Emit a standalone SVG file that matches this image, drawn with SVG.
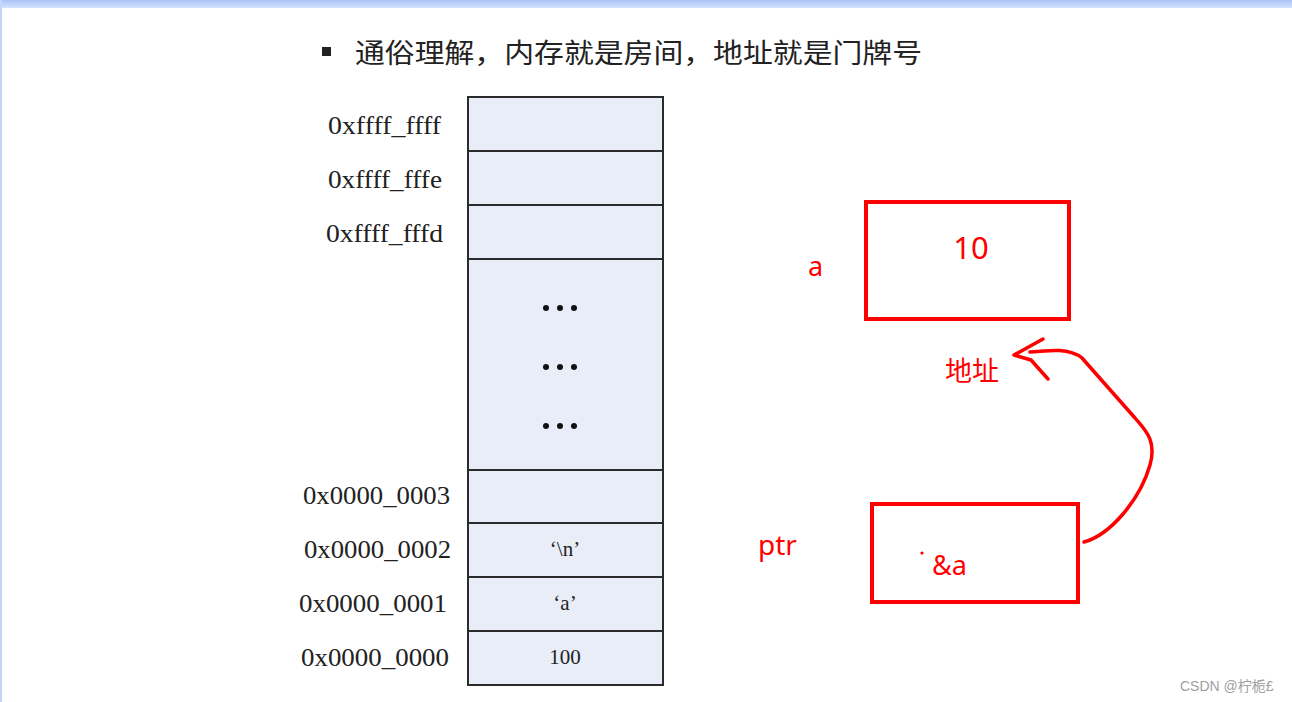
<svg xmlns="http://www.w3.org/2000/svg" width="1292" height="702" viewBox="0 0 1292 702">
<defs>
<linearGradient id="topbar" x1="0" y1="0" x2="0" y2="1">
<stop offset="0" stop-color="#a9c4f7"/>
<stop offset="1" stop-color="#d4e2fb"/>
</linearGradient>
</defs>
<style>
.cell{fill:#e8edf7;stroke:#2b2b2b;stroke-width:2}
.addr{font-family:"Liberation Serif",serif;font-size:26px;fill:#222}
.val{font-family:"Liberation Serif",serif;font-size:21px;fill:#222;text-anchor:middle}
.dot{fill:#111}
.rbox{fill:none;stroke:#ff0000;stroke-width:4}
.rtxt{font-family:"Noto Sans","Noto Sans CJK SC",sans-serif;fill:#ff0000}
.rline{fill:none;stroke:#ff0000;stroke-width:3.5;stroke-linecap:round;stroke-linejoin:round}
</style>
<rect x="0" y="0" width="1292" height="702" fill="#ffffff"/>
<rect x="0" y="0" width="1292" height="8" fill="url(#topbar)"/>
<rect x="0" y="0" width="2" height="702" fill="#c3d6f8"/>

<g id="title">
<rect x="322" y="47" width="9" height="9" fill="#222"/>
<text x="355" y="63" font-family="Noto Sans CJK SC, sans-serif" font-size="27" fill="#222" textLength="567" lengthAdjust="spacingAndGlyphs">通俗理解，内存就是房间，地址就是门牌号</text>
</g>

<g id="memory">
<rect class="cell" x="468" y="97" width="195" height="54"/>
<rect class="cell" x="468" y="151" width="195" height="54"/>
<rect class="cell" x="468" y="205" width="195" height="54"/>
<rect class="cell" x="468" y="259" width="195" height="211"/>
<rect class="cell" x="468" y="470" width="195" height="53"/>
<rect class="cell" x="468" y="523" width="195" height="54"/>
<rect class="cell" x="468" y="577" width="195" height="54"/>
<rect class="cell" x="468" y="631" width="195" height="54"/>
<text class="addr" x="328" y="134" textLength="113" lengthAdjust="spacingAndGlyphs">0xffff_ffff</text>
<text class="addr" x="328" y="188" textLength="114" lengthAdjust="spacingAndGlyphs">0xffff_fffe</text>
<text class="addr" x="326" y="242" textLength="117" lengthAdjust="spacingAndGlyphs">0xffff_fffd</text>
<text class="addr" x="303" y="504" textLength="147" lengthAdjust="spacingAndGlyphs">0x0000_0003</text>
<text class="addr" x="304" y="558" textLength="147" lengthAdjust="spacingAndGlyphs">0x0000_0002</text>
<text class="addr" x="299" y="612" textLength="148" lengthAdjust="spacingAndGlyphs">0x0000_0001</text>
<text class="addr" x="301" y="666" textLength="148" lengthAdjust="spacingAndGlyphs">0x0000_0000</text>
<text class="val" x="565" y="556">‘\n’</text>
<text class="val" x="565" y="610">‘a’</text>
<text class="val" x="565" y="664">100</text>
<circle class="dot" cx="546" cy="308" r="3"/><circle class="dot" cx="560" cy="308" r="3"/><circle class="dot" cx="574" cy="308" r="3"/>
<circle class="dot" cx="546" cy="367" r="3"/><circle class="dot" cx="560" cy="367" r="3"/><circle class="dot" cx="574" cy="367" r="3"/>
<circle class="dot" cx="546" cy="426" r="3"/><circle class="dot" cx="560" cy="426" r="3"/><circle class="dot" cx="574" cy="426" r="3"/>
</g>

<g id="var-a">
<rect class="rbox" x="866" y="202" width="203" height="117"/>
<text class="rtxt" x="808" y="276" font-size="27">a</text>
<text class="rtxt" x="971" y="259" font-size="31" text-anchor="middle">10</text>
</g>

<g id="addr-label">
<text class="rtxt" x="945" y="381" font-size="27">地址</text>
</g>

<g id="var-ptr">
<rect class="rbox" x="872" y="504" width="206" height="98"/>
<text class="rtxt" x="758" y="555" font-size="28">ptr</text>
<circle cx="922" cy="553" r="1.6" fill="#ff0000"/>
<text class="rtxt" x="932" y="575" font-size="27">&amp;a</text>
</g>

<g id="connectors">
<path class="rline" d="M1084,542 C1110,535 1140,500 1150,465 C1157,440 1145,430 1135,418 L1082,358 C1070,348 1050,350 1030,352"/>
<path class="rline" d="M1043,339 L1014,355 L1031,360 L1048,379"/>
</g>

<g id="watermark">
<text x="1180" y="691" font-family="Liberation Sans, Noto Sans CJK SC, sans-serif" font-size="14" fill="#a0a0a0">CSDN @柠栀£</text>
</g>
</svg>
